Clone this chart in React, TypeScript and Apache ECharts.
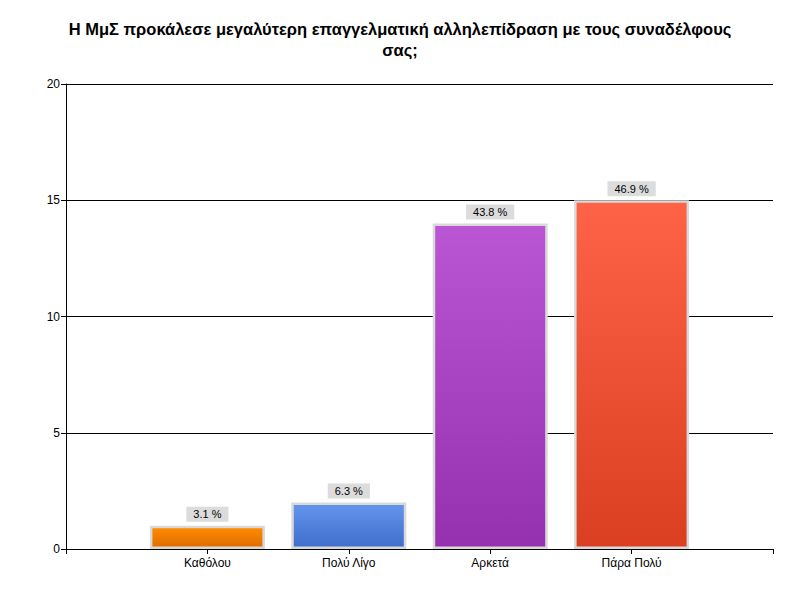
import React, { useEffect, useRef } from "react";
import * as echarts from "echarts";

const categories = ["", "Καθόλου", "Πολύ Λίγο", "Αρκετά", "Πάρα Πολύ", ""];
const values: (number | null)[] = [null, 1, 2, 14, 15, null];
const percentLabels = ["", "3.1 %", "6.3 %", "43.8 %", "46.9 %", ""];
const topColors = ["", "#FF8C00", "#6495ED", "#BA55D3", "#FF6347", ""];
const bottomColors = ["", "#DE6C00", "#3F6DCB", "#9530AE", "#DB3F22", ""];
const yTicks = { min: 0, max: 20, interval: 5 };
const titleText =
  "Η ΜμΣ προκάλεσε μεγαλύτερη επαγγελματική αλληλεπίδραση με τους συναδέλφους\nσας;";

export default function App() {
  const ref = useRef<HTMLDivElement>(null);
  useEffect(() => {
    if (!ref.current) return;
    const chart = echarts.init(ref.current, null, { renderer: "svg" });
    const font = "'Liberation Sans', Arial, sans-serif";
    chart.setOption({
      animation: false,
      backgroundColor: "#fff",
      textStyle: { fontFamily: font },
      title: {
        text: titleText,
        left: "center",
        top: 13,
        textStyle: {
          fontFamily: font,
          fontSize: 16.5,
          fontWeight: "bold",
          color: "#000",
          lineHeight: 21,
        },
      },
      grid: { left: 66, right: 27, top: 84, bottom: 51 },
      xAxis: {
        type: "category",
        data: categories,
        boundaryGap: false,
        axisLine: { lineStyle: { color: "#000", width: 1 } },
        axisTick: { show: true, length: 5, lineStyle: { color: "#000" } },
        axisLabel: { color: "#000", fontSize: 12, fontFamily: font, margin: 8, interval: 0 },
        splitLine: { show: false },
      },
      yAxis: {
        type: "value",
        min: yTicks.min,
        max: yTicks.max,
        interval: yTicks.interval,
        axisLine: { show: true, lineStyle: { color: "#000", width: 1 } },
        axisTick: { show: true, length: 5, lineStyle: { color: "#000" } },
        axisLabel: { color: "#000", fontSize: 12, fontFamily: font, margin: 6 },
        splitLine: { show: true, lineStyle: { color: "#000", width: 1 } },
      },
      series: [
        {
          type: "bar",
          barWidth: 115,
          data: values.map((v, i) =>
            v === null
              ? "-"
              : {
                  value: v,
                  itemStyle: {
                    color: new echarts.graphic.LinearGradient(0, 0, 0, 1, [
                      { offset: 0, color: topColors[i] },
                      { offset: 1, color: bottomColors[i] },
                    ]),
                    borderColor: "#D9D9D9",
                    borderWidth: 2.5,
                  },
                  label: {
                    show: true,
                    position: "top",
                    distance: 4,
                    formatter: percentLabels[i],
                    backgroundColor: "#DCDCDC",
                    color: "#000",
                    fontSize: 11,
                    fontFamily: font,
                    padding: [2, 7, 2, 7],
                  },
                }
          ),
        },
      ],
    });
    return () => chart.dispose();
  }, []);
  return <div ref={ref} style={{ width: 800, height: 600, position: "absolute", left: 0, top: 0 }} />;
}
